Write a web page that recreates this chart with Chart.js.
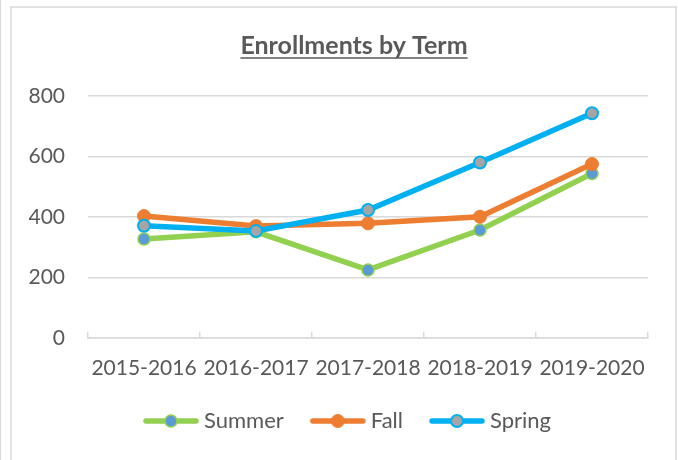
<!DOCTYPE html>
<html>
<head>
<meta charset="utf-8">
<script src="https://cdn.jsdelivr.net/npm/chart.js@4/dist/chart.umd.min.js"></script>
<style>
  html, body { margin: 0; padding: 0; background: #ffffff; }
  #wrap { position: absolute; left: 0; top: 0; width: 678px; height: 460px; }
</style>
</head>
<body>
<div id="wrap"><canvas id="c" width="678" height="460"></canvas></div>
<script>
// ---- data ----
const chartTitle = 'Enrollments by Term';
const terms = ['2015-2016', '2016-2017', '2017-2018', '2018-2019', '2019-2020'];
const summerValues = [327, 351, 225, 357, 544];
const fallValues = [403, 370, 379, 401, 575];
const springValues = [371, 354, 423, 580, 743];
const yTicks = [0, 200, 400, 600, 800];

const FONT = 'Lato';
const TEXT = '#595959';
const GRID = '#d9d9d9';

function legendImage(lineColor, fill, border, bw, r) {
  const c = document.createElement('canvas');
  c.width = 78; c.height = 16;
  const g = c.getContext('2d');
  g.strokeStyle = lineColor; g.lineWidth = 5.5; g.lineCap = 'round';
  g.beginPath(); g.moveTo(25, 8); g.lineTo(75, 8); g.stroke();
  g.beginPath(); g.arc(50, 8, r, 0, Math.PI * 2);
  g.fillStyle = fill; g.fill();
  if (bw > 0) { g.lineWidth = bw; g.strokeStyle = border; g.stroke(); }
  return c;
}

const series = [
  { label: 'Summer', data: summerValues, line: '#92d050', fill: '#5b9bd5', border: '#92d050', pbw: 1.5, r: 6, order: 2 },
  { label: 'Fall', data: fallValues, line: '#ed7d31', fill: '#ed7d31', border: '#ed7d31', pbw: 1, r: 6.5, order: 1 },
  { label: 'Spring', data: springValues, line: '#00b0f0', fill: '#a5a5a5', border: '#00b0f0', pbw: 2, r: 6, order: 0 }
];

const frameAndTitle = {
  id: 'frameAndTitle',
  beforeDraw(chart) {
    const ctx = chart.ctx;
    ctx.save();
    ctx.strokeStyle = GRID;
    ctx.lineWidth = 1.5;
    ctx.strokeRect(11, 7, 665, 470);
    ctx.lineWidth = 1;
    ctx.beginPath(); ctx.moveTo(0.5, 0); ctx.lineTo(0.5, 460); ctx.stroke();
    ctx.restore();
  },
  afterDraw(chart) {
    const ctx = chart.ctx;
    ctx.save();
    ctx.font = 'bold 25px ' + FONT;
    ctx.fillStyle = TEXT;
    ctx.textAlign = 'center';
    ctx.textBaseline = 'alphabetic';
    const cx = 354, by = 54;
    ctx.fillText(chartTitle, cx, by);
    const w = ctx.measureText(chartTitle).width;
    ctx.strokeStyle = TEXT;
    ctx.lineWidth = 1.6;
    ctx.beginPath(); ctx.moveTo(cx - w / 2, by + 4); ctx.lineTo(cx + w / 2, by + 4); ctx.stroke();
    ctx.restore();
  }
};

new Chart(document.getElementById('c'), {
  type: 'line',
  data: {
    labels: terms,
    datasets: series.map(s => ({
      label: s.label,
      data: s.data,
      borderColor: s.line,
      backgroundColor: s.line,
      borderWidth: 5.5,
      pointBackgroundColor: s.fill,
      pointBorderColor: s.border,
      pointBorderWidth: s.pbw,
      pointRadius: s.r,
      pointHoverRadius: s.r,
      pointStyle: 'circle',
      legendImg: legendImage(s.line, s.fill, s.border, s.pbw, s.r),
      tension: 0,
      order: s.order,
      fill: false
    }))
  },
  options: {
    responsive: false,
    animation: false,
    devicePixelRatio: 1,
    layout: { padding: { top: 96, bottom: 18, left: 0, right: 0 } },
    plugins: {
      title: { display: false },
      tooltip: { enabled: false },
      legend: {
        position: 'bottom',
        labels: {
          usePointStyle: true,
          pointStyleWidth: 66,
          padding: 10,
          color: TEXT,
          font: { family: FONT, size: 22 },
          sort: (a, b) => a.datasetIndex - b.datasetIndex,
          generateLabels(chart) {
            return chart.data.datasets.map((d, i) => ({
              text: d.label,
              datasetIndex: i,
              pointStyle: d.legendImg,
              fillStyle: d.borderColor,
              strokeStyle: d.borderColor,
              lineWidth: 0,
              fontColor: TEXT,
              hidden: false
            }));
          }
        }
      }
    },
    scales: {
      x: {
        offset: true,
        grid: { offset: true, drawOnChartArea: false, drawTicks: true, tickLength: -6, color: GRID, lineWidth: 1.5 },
        border: { display: true, color: GRID, width: 1.5 },
        ticks: { color: TEXT, font: { family: FONT, size: 21 }, padding: 24, maxRotation: 0, autoSkip: false },
        afterFit(scale) { scale.height = 62; }
      },
      y: {
        min: 0,
        max: 800,
        afterBuildTicks(scale) { scale.ticks = yTicks.map(v => ({ value: v })); },
        grid: { color: GRID, lineWidth: 1.5, drawTicks: false },
        border: { display: false },
        ticks: { color: TEXT, font: { family: FONT, size: 21 }, padding: 23 },
        afterFit(scale) { scale.width = 88; }
      },
      yRight: {
        position: 'right',
        min: 0,
        max: 800,
        grid: { display: false, drawOnChartArea: false },
        border: { display: false },
        ticks: { display: false },
        afterFit(scale) { scale.width = 30; }
      }
    }
  },
  plugins: [frameAndTitle]
});
</script>
</body>
</html>
